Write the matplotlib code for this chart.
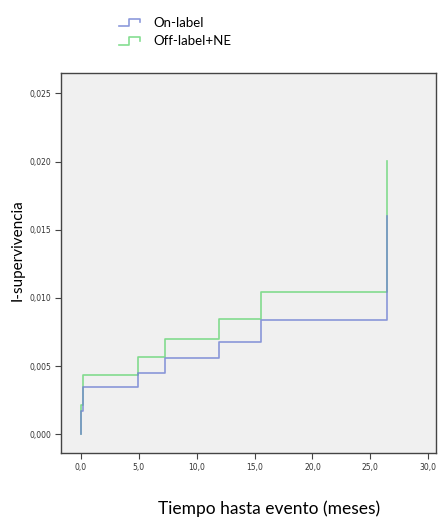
import matplotlib.pyplot as plt
from matplotlib.legend_handler import HandlerBase
from matplotlib.lines import Line2D
from matplotlib.ticker import FuncFormatter

# Cumulative incidence (1 - survival) by group, step functions
time_on = [0.0, 0.0, 0.17, 4.97, 7.27, 11.93, 15.56, 26.4, 26.4]
inc_on = [0.0, 0.00173, 0.00349, 0.00452, 0.00557, 0.00677, 0.00838, 0.01603, 0.01603]

time_off = [0.0, 0.0, 0.17, 4.97, 7.27, 11.93, 15.56, 26.4, 26.4]
inc_off = [0.0, 0.00215, 0.00435, 0.00565, 0.00697, 0.00845, 0.01046, 0.02004, 0.02004]

labels = ["On-label", "Off-label+NE"]
x_ticks = [0, 5, 10, 15, 20, 25, 30]
y_ticks = [0.0, 0.005, 0.010, 0.015, 0.020, 0.025]

blue = "#6f80d2"
green = "#66d676"
label_font = "Lato"


class StepHandler(HandlerBase):
    # small step-shaped legend glyph
    def create_artists(self, legend, orig_handle, xdescent, ydescent,
                       width, height, fontsize, trans):
        x0 = -xdescent
        y0 = -ydescent
        xs = [x0, x0 + 0.5 * width, x0 + 0.5 * width, x0 + width, x0 + width]
        ys = [y0 + 0.05 * height, y0 + 0.05 * height, y0 + 0.85 * height,
              y0 + 0.85 * height, y0 + 0.45 * height]
        line = Line2D(xs, ys, color=orig_handle.get_color(), lw=1.2,
                      alpha=orig_handle.get_alpha(), transform=trans)
        return [line]


fig = plt.figure(figsize=(4.38, 5.23), dpi=100)
ax = fig.add_axes([61 / 438, 70 / 523, 375 / 438, 380 / 523])
ax.set_facecolor("#f0f0f0")

l_off, = ax.step(time_off, inc_off, where="post", color=green, lw=1.2, alpha=0.8)
l_on, = ax.step(time_on, inc_on, where="post", color=blue, lw=1.2, alpha=0.8)

ax.set_xlim(-1.7, 30.66)
ax.set_ylim(-0.00137, 0.0265)
ax.set_xticks(x_ticks)
ax.set_yticks(y_ticks)

ax.xaxis.set_major_formatter(FuncFormatter(lambda v, p: f"{v:.1f}".replace(".", ",")))
ax.yaxis.set_major_formatter(FuncFormatter(lambda v, p: f"{v:.3f}".replace(".", ",")))
ax.tick_params(axis="both", direction="out", length=4, width=0.8, color="#444444",
               labelsize=5.5, labelcolor="#333333", pad=3)

for side in ["left", "bottom", "right", "top"]:
    ax.spines[side].set_color("#444444")
    ax.spines[side].set_linewidth(1.0)

ax.set_xlabel("Tiempo hasta evento (meses)", fontsize=12.5, family=label_font,
              va="center")
ax.set_ylabel("I-supervivencia", fontsize=11, family=label_font, va="center")
ax.xaxis.set_label_coords(0.555, -0.147)
ax.yaxis.set_label_coords(-0.115, 0.534)

fig.legend([l_on, l_off], labels, loc="upper left",
           bbox_to_anchor=(112 / 438, 1 - 10 / 523), frameon=False,
           prop={"family": label_font, "size": 9.5}, borderpad=0,
           handlelength=1.6, handletextpad=1.0, labelspacing=0.5,
           handler_map={Line2D: StepHandler()})

fig.savefig("out.png", dpi=100)
